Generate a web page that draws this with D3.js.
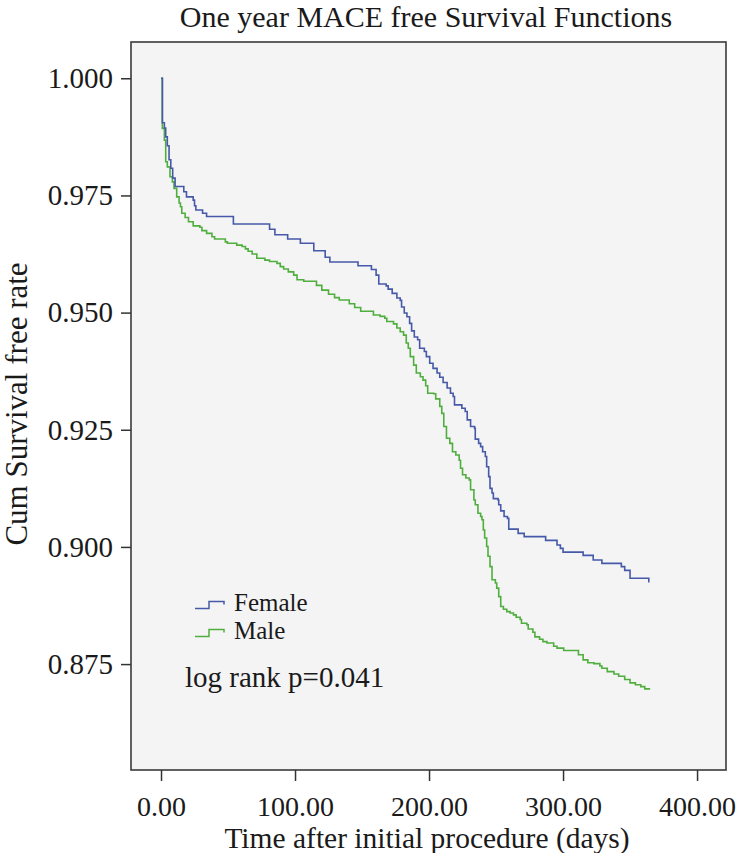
<!DOCTYPE html>
<html>
<head>
<meta charset="utf-8">
<script src="https://cdn.jsdelivr.net/npm/d3@7"></script>
<style>
  html, body { margin: 0; padding: 0; background: #ffffff; }
  svg { display: block; }
  text { font-family: "Liberation Serif", "Times New Roman", serif; fill: #1a1a1a; }
</style>
</head>
<body>
<svg id="chart" width="737" height="853"></svg>
<script>
// ---- data ----
const femaleDays = [0,1,2.5,3.5,4.7,6,7.3,8.7,10.5,17,19,24,25,26,31,34,54,81,85,94.5,104,114,122.5,126,147,157,160.5,162.5,168,169.5,172.5,176,178.5,179.5,181.5,183.5,185.5,187,189,191.5,193,196.5,198,200.5,203,206,208,210.5,213.5,216,218,219,224.5,227,228.5,231,234,234.5,237,238.5,240,242,243,244.5,245.5,247,248,251.5,252,253.5,256,258.5,259.5,266.5,271,287,295.5,298,300,315,322.5,329,343.5,346,350,364,364.5];
const femaleSurv = [1.000,0.9905,0.9894,0.9875,0.9856,0.9826,0.9808,0.9787,0.9769,0.9758,0.9747,0.9740,0.9728,0.9719,0.9712,0.9705,0.9689,0.9678,0.9666,0.9657,0.9648,0.9632,0.9618,0.9608,0.9600,0.9592,0.9580,0.9561,0.9557,0.9550,0.9541,0.9531,0.9526,0.9512,0.9499,0.9491,0.9477,0.9461,0.9448,0.9442,0.9424,0.9417,0.9406,0.9392,0.9381,0.9371,0.9362,0.9351,0.9339,0.9328,0.9321,0.9303,0.9296,0.9289,0.9271,0.9257,0.9253,0.9230,0.9221,0.9214,0.9203,0.9193,0.9171,0.9150,0.9125,0.9115,0.9103,0.9100,0.9090,0.9077,0.9065,0.9061,0.9038,0.9029,0.9022,0.9014,0.9004,0.8997,0.8989,0.8982,0.8972,0.8965,0.8958,0.8950,0.8933,0.8926,0.8926];

const maleDays = [0,1,2.5,3.5,4.7,6.7,8.5,9.7,11.7,13.5,14.5,15.5,18,20.5,24,29,30.5,34,38,40,48,49.5,56.5,60.5,63,65,68,71.5,77.5,81,86.5,89,91.5,95,99,101.5,106.5,116,120,125,129.5,133,140.5,144.5,149,158.5,163.5,167,168.5,173.5,176,178.5,181,183,184.5,186,188.5,190.5,193.5,195.5,197.5,199,203.5,205,208,209.5,211,213,215.5,217.5,220,222.5,223.5,225,227.5,230,231,233.5,234.5,236.5,238.5,239.5,240.5,241.5,243,244,245.5,247,249.5,250.5,252,253.5,255.5,258,260.5,263,265,268,269,273,274,277.5,279,282.5,285,288,293,295.5,300.5,311.5,315,318.5,323,327.5,329,333,338,341.5,346,350,354,358,361,365];
const maleSurv = [1.000,0.9893,0.9868,0.9822,0.9811,0.9790,0.9779,0.9765,0.9747,0.9734,0.9726,0.9712,0.9703,0.9694,0.9685,0.9682,0.9675,0.9669,0.9662,0.9657,0.9651,0.9648,0.9644,0.9641,0.9636,0.9631,0.9625,0.9616,0.9612,0.9609,0.9605,0.9598,0.9593,0.9587,0.9580,0.9570,0.9567,0.9558,0.9548,0.9539,0.9532,0.9527,0.9519,0.9511,0.9503,0.9495,0.9492,0.9488,0.9481,0.9476,0.9467,0.9459,0.9452,0.9435,0.9424,0.9406,0.9388,0.9371,0.9363,0.9356,0.9344,0.9328,0.9327,0.9316,0.9300,0.9285,0.9257,0.9232,0.9221,0.9203,0.9196,0.9185,0.9168,0.9154,0.9147,0.9143,0.9122,0.9100,0.9090,0.9072,0.9065,0.9058,0.9036,0.9019,0.9001,0.8980,0.8958,0.8930,0.8923,0.8912,0.8894,0.8873,0.8867,0.8862,0.8859,0.8855,0.8850,0.8845,0.8837,0.8834,0.8825,0.8818,0.8808,0.8803,0.8798,0.8795,0.8788,0.8784,0.8779,0.8770,0.8759,0.8753,0.8751,0.8746,0.8741,0.8734,0.8729,0.8724,0.8717,0.8710,0.8706,0.8702,0.8697,0.8697];

const xTicks = [0, 100, 200, 300, 400];
const yTicks = [0.875, 0.900, 0.925, 0.950, 0.975, 1.000];
const seriesNames = ["Female", "Male"];
const seriesColors = ["#4559a8", "#4fae3e"];

const titleText = "One year MACE free Survival Functions";
const xTitle = "Time after initial procedure (days)";
const yTitle = "Cum Survival free rate";
const noteText = "log rank p=0.041";

// ---- layout ----
const frame = { left: 131, top: 42, right: 726, bottom: 770 };
const svg = d3.select("#chart");

const x = d3.scaleLinear().domain([-22.4, 421.6]).range([frame.left, frame.right]);
const y = d3.scaleLinear().domain([0.8524, 1.00774]).range([frame.bottom, frame.top]);

// plot background + frame
svg.append("rect")
  .attr("x", frame.left).attr("y", frame.top)
  .attr("width", frame.right - frame.left).attr("height", frame.bottom - frame.top)
  .attr("fill", "#f4f4f4").attr("stroke", "#3a3a3a").attr("stroke-width", 1.6);

// axes
const yAxis = d3.axisLeft(y).tickValues(yTicks).tickFormat(d3.format(".3f"))
  .tickSize(10).tickSizeOuter(0).tickPadding(8);
const gy = svg.append("g").attr("transform", `translate(${frame.left},0)`).call(yAxis);
gy.select(".domain").remove();
gy.selectAll("line").attr("stroke", "#333").attr("stroke-width", 1.5);
gy.selectAll("text").attr("font-size", 29).attr("fill", "#1a1a1a")
  .attr("font-family", "Liberation Serif, Times New Roman, serif");

const xAxis = d3.axisBottom(x).tickValues(xTicks).tickFormat(d3.format(".2f"))
  .tickSize(11).tickSizeOuter(0).tickPadding(15);
const gx = svg.append("g").attr("transform", `translate(0,${frame.bottom})`).call(xAxis);
gx.select(".domain").remove();
gx.selectAll("line").attr("stroke", "#333").attr("stroke-width", 1.5);
gx.selectAll("text").attr("font-size", 28).attr("fill", "#1a1a1a")
  .attr("font-family", "Liberation Serif, Times New Roman, serif");

// curves
const line = d3.line().x(d => x(d[0])).y(d => y(d[1])).curve(d3.curveStepAfter);
const femaleData = femaleDays.map((d, i) => [d, femaleSurv[i]]);
const maleData = maleDays.map((d, i) => [d, maleSurv[i]]);

svg.append("path").datum(maleData).attr("d", line)
  .attr("fill", "none").attr("stroke", seriesColors[1]).attr("stroke-width", 1.6);
svg.append("path").datum(femaleData).attr("d", line)
  .attr("fill", "none").attr("stroke", seriesColors[0]).attr("stroke-width", 1.6);

// title
svg.append("text").attr("x", 426).attr("y", 27).attr("text-anchor", "middle")
  .attr("font-size", 30).text(titleText);

// axis titles
svg.append("text").attr("x", 427).attr("y", 848).attr("text-anchor", "middle")
  .attr("font-size", 29.5).text(xTitle);
svg.append("text").attr("transform", "translate(27,404) rotate(-90)")
  .attr("text-anchor", "middle").attr("font-size", 31).text(yTitle);

// legend
const legend = svg.append("g");
const legendTop = 608.5, legendStep = 28;
seriesNames.forEach((name, i) => {
  const ly = legendTop + i * legendStep;
  legend.append("path")
    .attr("d", `M195,${ly} H209 V${ly - 7} H224 V${ly - 4}`)
    .attr("fill", "none").attr("stroke", seriesColors[i]).attr("stroke-width", 1.5);
  legend.append("text").attr("x", 234).attr("y", ly + 2).attr("font-size", 25).text(name);
});

svg.append("text").attr("x", 185).attr("y", 687).attr("font-size", 29).text(noteText);
</script>
</body>
</html>
